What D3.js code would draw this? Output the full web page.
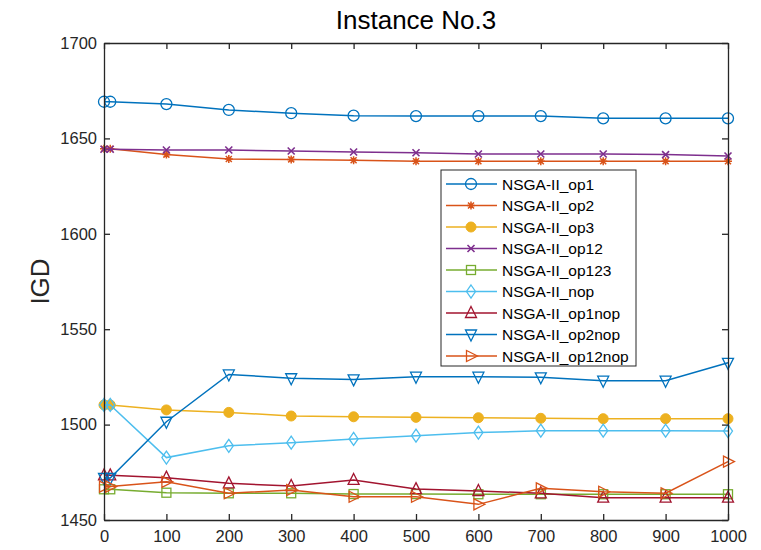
<!DOCTYPE html>
<html lang="en">
<head>
  <meta charset="UTF-8">
  <title>Instance No.3</title>
  <style>
    body {
      margin: 0;
      padding: 0;
      background-color: #ffffff;
      font-family: 'Liberation Sans', Arial, sans-serif;
    }
    svg { display: block; }
  </style>
</head>
<body>

<svg></svg>

<script src="https://d3js.org/d3.v7.min.js"></script>
<script>
  const width = 761, height = 550;

  // generations on the x axis
  const gens = [0, 10, 100, 200, 300, 400, 500, 600, 700, 800, 900, 1000];
  const xTicks = [0, 100, 200, 300, 400, 500, 600, 700, 800, 900, 1000];
  const yTicks = [1450, 1500, 1550, 1600, 1650, 1700];

  const seriesNames = ["NSGA-II_op1", "NSGA-II_op2", "NSGA-II_op3", "NSGA-II_op12", "NSGA-II_op123",
    "NSGA-II_nop", "NSGA-II_op1nop", "NSGA-II_op2nop", "NSGA-II_op12nop"];

  const op1      = [1669.2, 1669.2, 1668.0, 1664.9, 1663.2, 1661.9, 1661.7, 1661.7, 1661.7, 1660.5, 1660.5, 1660.5];
  const op2      = [1644.6, 1644.6, 1641.5, 1639.2, 1639.0, 1638.5, 1638.0, 1638.0, 1638.0, 1638.0, 1638.0, 1638.0];
  const op3      = [1510.3, 1510.3, 1507.7, 1506.4, 1504.5, 1504.1, 1503.8, 1503.6, 1503.3, 1503.1, 1503.1, 1503.1];
  const op12     = [1644.3, 1644.3, 1643.9, 1643.9, 1643.4, 1642.9, 1642.5, 1641.8, 1641.8, 1641.8, 1641.5, 1640.8];
  const op123    = [1466.1, 1466.1, 1464.3, 1464.0, 1464.0, 1463.6, 1463.6, 1463.5, 1463.5, 1463.5, 1463.5, 1463.5];
  const nop      = [1510.3, 1510.3, 1482.7, 1488.9, 1490.5, 1492.5, 1494.2, 1495.8, 1496.8, 1496.8, 1496.8, 1496.6];
  const op1nop   = [1473.4, 1473.4, 1472.2, 1469.2, 1467.8, 1471.0, 1466.2, 1465.2, 1464.0, 1461.7, 1461.7, 1461.7];
  const op2nop   = [1472.0, 1472.0, 1501.5, 1526.3, 1524.3, 1523.7, 1525.1, 1525.1, 1524.8, 1523.0, 1523.0, 1532.4];
  const op12nop  = [1467.5, 1467.5, 1470.0, 1464.0, 1465.7, 1462.2, 1462.2, 1458.2, 1466.6, 1464.8, 1464.0, 1480.6];

  const seriesValues = [op1, op2, op3, op12, op123, nop, op1nop, op2nop, op12nop];
  const colors = ["#0072BD", "#D95319", "#EDB120", "#7E2F8E", "#77AC30", "#4DBEEE", "#A2142F", "#0072BD", "#D95319"];
  const markers = ["circle", "star", "dot", "cross", "square", "diamond", "triUp", "triDown", "triRight"];

  const margin = {top: 43, right: 33, bottom: 30, left: 104};
  const x = d3.scaleLinear().domain([0, 1000]).range([margin.left, width - margin.right]);
  const y = d3.scaleLinear().domain([1450, 1700]).range([height - margin.bottom, margin.top]);

  const svg = d3.select("svg").attr("width", width).attr("height", height);
  const axisColor = "#262626";

  // marker drawing
  function drawMarker(g, type, color) {
    const s = 5.5;
    if (type === "circle") {
      g.append("circle").attr("r", s).attr("fill", "none").attr("stroke", color).attr("stroke-width", 1.3);
    } else if (type === "dot") {
      g.append("circle").attr("r", 5).attr("fill", color).attr("stroke", color);
    } else if (type === "square") {
      g.append("rect").attr("x", -4.5).attr("y", -4.5).attr("width", 9).attr("height", 9)
        .attr("fill", "none").attr("stroke", color).attr("stroke-width", 1.3);
    } else if (type === "diamond") {
      g.append("path").attr("d", `M0,${-s - 1}L${s - 1},0L0,${s + 1}L${-s + 1},0Z`)
        .attr("fill", "none").attr("stroke", color).attr("stroke-width", 1.3);
    } else if (type === "cross") {
      g.append("path").attr("d", "M-3.5,-3.5L3.5,3.5M-3.5,3.5L3.5,-3.5")
        .attr("stroke", color).attr("stroke-width", 1.6);
    } else if (type === "star") {
      g.append("path").attr("d", "M-4,0L4,0M0,-4L0,4M-3,-3L3,3M-3,3L3,-3")
        .attr("stroke", color).attr("stroke-width", 1.5);
    } else if (type === "triUp") {
      g.append("path").attr("d", `M0,${-s - 1}L${s},${s - 1}L${-s},${s - 1}Z`)
        .attr("fill", "none").attr("stroke", color).attr("stroke-width", 1.3);
    } else if (type === "triDown") {
      g.append("path").attr("d", `M0,${s + 1}L${s},${-s + 1}L${-s},${-s + 1}Z`)
        .attr("fill", "none").attr("stroke", color).attr("stroke-width", 1.3);
    } else if (type === "triRight") {
      g.append("path").attr("d", `M${s + 1},0L${-s + 1},${-s}L${-s + 1},${s}Z`)
        .attr("fill", "none").attr("stroke", color).attr("stroke-width", 1.3);
    }
  }

  // series
  const line = d3.line().x((d, i) => x(gens[i])).y(d => y(d));
  seriesValues.forEach((vals, k) => {
    svg.append("path")
      .attr("d", line(vals))
      .attr("fill", "none")
      .attr("stroke", colors[k])
      .attr("stroke-width", 1.5);
    vals.forEach((v, i) => {
      const g = svg.append("g").attr("transform", `translate(${x(gens[i])},${y(v)})`);
      drawMarker(g, markers[k], colors[k]);
    });
  });

  // axes (box with inward ticks on all sides)
  const tickLen = 6;
  const fmt = d3.format("d");
  const xAxisB = d3.axisBottom(x).tickValues(xTicks).tickFormat(fmt).tickSizeInner(-tickLen).tickSizeOuter(0).tickPadding(10);
  const xAxisT = d3.axisTop(x).tickValues(xTicks).tickSizeInner(-tickLen).tickSizeOuter(0).tickFormat("");
  const yAxisL = d3.axisLeft(y).tickValues(yTicks).tickFormat(fmt).tickSizeInner(-tickLen).tickSizeOuter(0).tickPadding(7);
  const yAxisR = d3.axisRight(y).tickValues(yTicks).tickSizeInner(-tickLen).tickSizeOuter(0).tickFormat("");

  const axes = [
    svg.append("g").attr("transform", `translate(0,${height - margin.bottom})`).call(xAxisB),
    svg.append("g").attr("transform", `translate(0,${margin.top})`).call(xAxisT),
    svg.append("g").attr("transform", `translate(${margin.left},0)`).call(yAxisL),
    svg.append("g").attr("transform", `translate(${width - margin.right},0)`).call(yAxisR)
  ];
  axes.forEach(a => {
    a.select(".domain").attr("stroke", axisColor).attr("stroke-width", 1.3);
    a.selectAll(".tick line").attr("stroke", axisColor).attr("stroke-width", 1.3);
    a.selectAll(".tick text").attr("fill", axisColor).style("font-size", "16.5px")
      .style("font-family", "'Liberation Sans', Arial, sans-serif");
  });

  // title and y label
  svg.append("text")
    .attr("x", (margin.left + width - margin.right) / 2)
    .attr("y", 29)
    .attr("text-anchor", "middle")
    .attr("fill", "#000")
    .style("font-size", "26px")
    .text("Instance No.3");

  svg.append("text")
    .attr("transform", `translate(49,${(margin.top + height - margin.bottom) / 2}) rotate(-90)`)
    .attr("text-anchor", "middle")
    .attr("fill", axisColor)
    .style("font-size", "26px")
    .text("IGD");

  // legend
  const lg = svg.append("g").attr("transform", "translate(441,170)");
  lg.append("rect")
    .attr("width", 195).attr("height", 196)
    .attr("fill", "#fff")
    .attr("stroke", axisColor).attr("stroke-width", 1);
  seriesNames.forEach((name, k) => {
    const cy = 14 + k * 21.5;
    lg.append("line").attr("x1", 5).attr("x2", 56).attr("y1", cy).attr("y2", cy)
      .attr("stroke", colors[k]).attr("stroke-width", 1.5);
    drawMarker(lg.append("g").attr("transform", `translate(30,${cy})`), markers[k], colors[k]);
    lg.append("text").attr("x", 61).attr("y", cy + 5.5)
      .attr("fill", "#000")
      .style("font-size", "15.5px")
      .text(name);
  });
</script>

</body>
</html>
